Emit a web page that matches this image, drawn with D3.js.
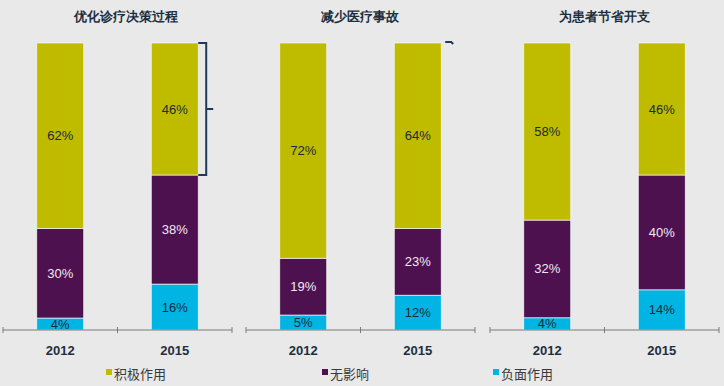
<!DOCTYPE html>
<meta charset="utf-8">
<style>
  body { margin: 0; background: #e9e9e9; }
  svg { display: block; font-family: "Liberation Sans", Arial, sans-serif; }
</style>
<svg width="724" height="386"></svg>
<script src="https://d3js.org/d3.v7.min.js"></script>
<script>

var titles = ["优化诊疗决策过程", "减少医疗事故", "为患者节省开支"];
var years = ["2012", "2015"];
var series = ["积极作用", "无影响", "负面作用"];
var colors = ["#bfbc00", "#4e1150", "#00b4e3"];
var labelColors = ["#1a2a3a", "#f2e8f2", "#1a2a3a"];

// per panel, per year: [positive, none, negative]
var positive = [[62, 46], [72, 64], [58, 46]];
var noEffect = [[30, 38], [19, 23], [32, 40]];
var negative = [[4, 16], [5, 12], [4, 14]];

var svg = d3.select("svg");

var panelW = 229;
var panelX = [3, 246, 490];
var titleX = [126, 360, 604];
var plotTop = 43, plotBottom = 330;

var x = d3.scaleBand().domain(years).range([0, panelW])
  .paddingInner(0.59).paddingOuter(0.295);
var y = d3.scaleLinear().domain([0, 1]).range([plotBottom, plotTop]);

titles.forEach(function(t, p) {
  var rows = years.map(function(yr, i) {
    var r = { year: yr };
    r[series[0]] = positive[p][i];
    r[series[1]] = noEffect[p][i];
    r[series[2]] = negative[p][i];
    return r;
  });
  // draw bottom-up: negative first
  var layers = d3.stack().keys(series.slice().reverse()).offset(d3.stackOffsetExpand)(rows);

  var g = svg.append("g").attr("transform", "translate(" + panelX[p] + ",0)");

  svg.append("text")
    .attr("x", titleX[p]).attr("y", 21)
    .attr("text-anchor", "middle")
    .attr("font-size", 13).attr("font-weight", "bold")
    .attr("fill", "#1d2f3f")
    .text(t);

  layers.forEach(function(layer) {
    var si = series.indexOf(layer.key);
    g.selectAll(null).data(layer).enter().append("rect")
      .attr("x", function(d) { return x(d.data.year); })
      .attr("width", x.bandwidth())
      .attr("y", function(d) { return y(d[1]); })
      .attr("height", function(d) { return y(d[0]) - y(d[1]); })
      .attr("fill", colors[si])
      .attr("stroke", "#f4f4f4").attr("stroke-width", 0.7);

    g.selectAll(null).data(layer).enter().append("text")
      .attr("x", function(d) { return x(d.data.year) + x.bandwidth() / 2; })
      .attr("y", function(d) { return (y(d[0]) + y(d[1])) / 2 + 4.5; })
      .attr("text-anchor", "middle")
      .attr("font-size", 13)
      .attr("fill", labelColors[si])
      .text(function(d) { return d.data[layer.key] + "%"; });
  });

  // axis
  var axis = g.append("g").attr("transform", "translate(0," + plotBottom + ")");
  axis.append("line").attr("x1", 0).attr("x2", panelW)
    .attr("stroke", "#7a7a7a").attr("stroke-width", 1);
  [0, panelW / 2, panelW].forEach(function(tx) {
    axis.append("line").attr("x1", tx).attr("x2", tx).attr("y1", -3).attr("y2", 3)
      .attr("stroke", "#7a7a7a").attr("stroke-width", 1);
  });
  years.forEach(function(yr) {
    axis.append("text")
      .attr("x", x(yr) + x.bandwidth() / 2).attr("y", 25)
      .attr("text-anchor", "middle")
      .attr("font-size", 13).attr("font-weight", "bold")
      .attr("fill", "#1d2f3f")
      .text(yr);
  });
});

// bracket on first panel's 2015 bar
var b1 = panelX[0] + x("2015") + x.bandwidth();
var yTop = y(1), yMid = y(1 - 0.46 / 2), yLow = y(1 - 0.46);
svg.append("path")
  .attr("d", "M" + b1 + "," + yTop + "H" + (b1 + 8) + "V" + yLow + "H" + b1 +
    "M" + (b1 + 8) + "," + yMid + "H" + (b1 + 15))
  .attr("fill", "none").attr("stroke", "#1f3a55").attr("stroke-width", 2);

// small bracket stub on second panel
var b2 = panelX[1] + x("2015") + x.bandwidth();
svg.append("path")
  .attr("d", "M" + (b2 + 4) + "," + (yTop - 1) + "H" + (b2 + 10) + "L" + (b2 + 12) + "," + (yTop + 1))
  .attr("fill", "none").attr("stroke", "#1f3a55").attr("stroke-width", 2);

// legend
var legendX = [106, 322, 493];
series.forEach(function(s, i) {
  var lg = svg.append("g").attr("transform", "translate(" + legendX[i] + ",369)");
  lg.append("rect").attr("width", 6).attr("height", 6).attr("fill", colors[i]);
  lg.append("text").attr("x", 8).attr("y", 9.5)
    .attr("font-size", 13).attr("fill", "#3a3a3a")
    .attr("font-family", "'Noto Sans CJK SC', sans-serif")
    .text(s);
});

</script>
